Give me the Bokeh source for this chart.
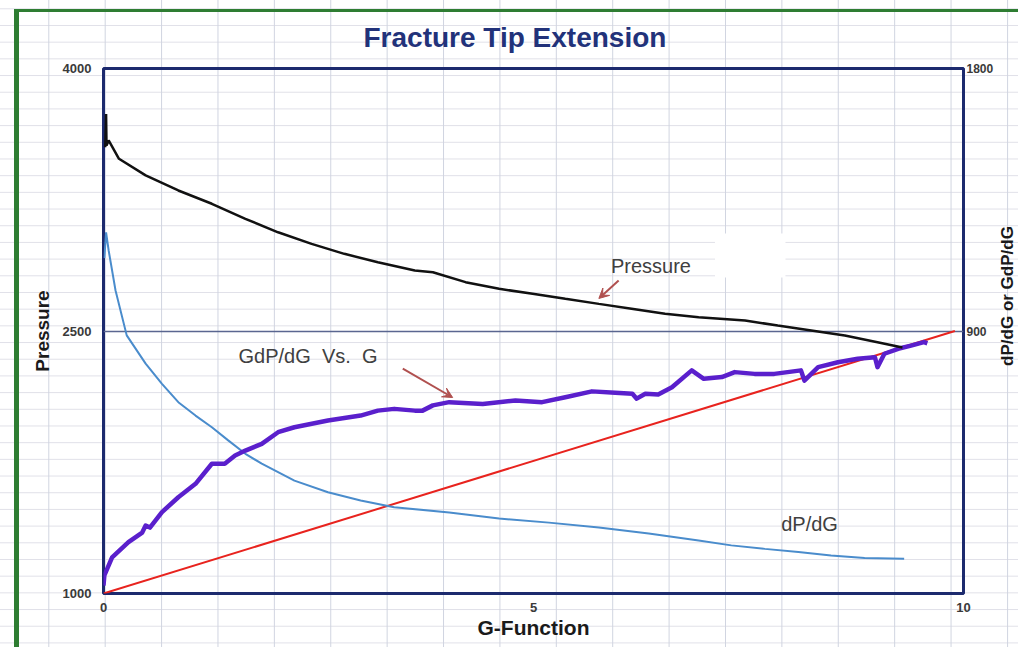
import numpy as np
from bokeh.plotting import figure
from bokeh.layouts import row
from bokeh.models import Range1d, LinearAxis, FixedTicker, Label, Arrow, VeeHead, BoxAnnotation
from bokeh.core.properties import value
from bokeh.embed import file_html
from bokeh.resources import INLINE

# ---------------- data ----------------
x_ticks = [0, 5, 10]
left_ticks = [1000, 2500, 4000]
right_ticks = [900, 1800]

pressure_g = [0.02, 0.03, 0.035, 0.06, 0.18, 0.49, 0.87, 1.26, 1.65, 2.03, 2.42, 2.80,
              3.19, 3.62, 3.83, 4.21, 4.60, 4.99, 5.37, 5.76, 6.14, 6.53, 6.92, 7.46,
              7.84, 8.23, 8.62, 9.00, 9.29]
pressure_p = [3550, 3740, 3560, 3589, 3484, 3389, 3303, 3227, 3141, 3064, 2998, 2941,
              2893, 2846, 2836, 2779, 2741, 2713, 2684, 2655, 2627, 2598, 2579, 2560,
              2531, 2503, 2474, 2436, 2406]

dpdg_g = [0.01, 0.03, 0.06, 0.14, 0.27, 0.49, 0.68, 0.87, 1.07, 1.26, 1.45, 1.65, 1.84,
          2.22, 2.61, 2.99, 3.38, 4.02, 4.60, 5.18, 5.76, 6.34, 6.92, 7.30, 7.69, 8.08,
          8.46, 8.85, 9.31]
dpdg_v = [1150, 1238, 1176, 1039, 885, 788, 719, 656, 610, 570, 525, 479, 445,
          387, 347, 319, 296, 278, 257, 243, 226, 206, 182, 165, 153, 142,
          130, 122, 119]

gdpdg_g = [0.00, 0.01, 0.10, 0.29, 0.45, 0.49, 0.54, 0.68, 0.87, 1.07, 1.26, 1.41, 1.53,
           1.65, 1.84, 2.03, 2.22, 2.61, 2.99, 3.19, 3.38, 3.62, 3.71, 3.83, 4.02, 4.41,
           4.79, 5.10, 5.37, 5.68, 5.95, 6.15, 6.20, 6.30, 6.45, 6.61, 6.84, 6.98, 7.19,
           7.34, 7.57, 7.80, 8.11, 8.15, 8.31, 8.54, 8.77, 8.97, 9.00, 9.08, 9.24, 9.39,
           9.54, 9.58]
gdpdg_v = [27, 62, 124, 176, 209, 233, 226, 279, 330, 376, 445, 445, 473,
           490, 513, 553, 570, 593, 610, 627, 633, 627, 627, 645, 656, 650,
           662, 656, 673, 693, 688, 685, 668, 685, 682, 707, 765, 736, 742,
           759, 753, 753, 765, 730, 776, 793, 805, 810, 776, 822, 839, 850,
           862, 858]

red_g = [0.0, 9.9]
red_v = [0.0, 900.0]

right_axis_title = "dP/dG or GdP/dG"

# ---------------- styling ----------------
FONT = "Liberation Sans"
NAVY = "#1c2a6e"
ARROW_C = "#b0504f"
GRID_IMG = ("linear-gradient(to right, #d0d4e0 1px, transparent 1px),"
            "linear-gradient(to bottom, #e0e0e8 1px, transparent 1px)")

p = figure(width=996, height=647, output_backend="svg", toolbar_location=None,
           x_range=Range1d(0, 10), y_range=Range1d(1000, 4000),
           min_border_left=103, min_border_right=30, min_border_top=68, min_border_bottom=54,
           title="Fracture Tip Extension")
p.extra_y_ranges = {"right": Range1d(0, 1800)}

p.border_fill_color = None
p.background_fill_color = None
p.outline_line_color = NAVY
p.outline_line_width = 3

# spreadsheet-like background grid and green border (decoration)
p.styles = {
    "background-image": ("linear-gradient(#2e7d32,#2e7d32),"
                         "linear-gradient(#2e7d32,#2e7d32)," + GRID_IMG),
    "background-size": "calc(100% - 14px) 3px, 5px calc(100% - 9px), 56.4px 100%, 100% 16.7px",
    "background-position": "14px 9px, 14px 9px, 48.3px 0, 0 8.3px",
    "background-repeat": "no-repeat, no-repeat, repeat, repeat",
}

p.title.text_font = FONT
p.title.text_font_size = "28px"
p.title.text_font_style = "bold"
p.title.text_color = "#22327a"
p.title.align = "left"
p.title.offset = 260
p.title.standoff = 31

# axes
def style_axis(ax, label=None, label_size="19px", tick_size="13px"):
    ax.major_label_text_font = FONT
    ax.major_label_text_font_size = tick_size
    ax.major_label_text_font_style = "bold"
    ax.major_label_text_color = "#3a3a3a"
    ax.axis_line_color = None
    ax.major_tick_line_color = None
    ax.minor_tick_line_color = None
    ax.major_tick_out = 0
    ax.major_tick_in = 0
    ax.minor_tick_out = 0
    ax.minor_tick_in = 0
    if label:
        ax.axis_label = label
        ax.axis_label_text_font = FONT
        ax.axis_label_text_font_size = label_size
        ax.axis_label_text_font_style = "bold"
        ax.axis_label_text_color = "#1a1a1a"

xa = p.xaxis[0]
xa.ticker = FixedTicker(ticks=x_ticks)
style_axis(xa, "G-Function", "21px")
xa.major_label_standoff = 9
xa.axis_label_standoff = 1
xa.axis_label_text_line_height = 0.8

ya = p.yaxis[0]
ya.ticker = FixedTicker(ticks=left_ticks)
style_axis(ya, "Pressure", "19px")
ya.major_label_standoff = 12
ya.axis_label_standoff = 7

ra = LinearAxis(y_range_name="right", ticker=FixedTicker(ticks=right_ticks))
style_axis(ra, tick_size="12px")
ra.major_label_standoff = 3
p.add_layout(ra, "right")

p.xgrid.grid_line_color = None
p.ygrid.ticker = FixedTicker(ticks=left_ticks)
p.ygrid.grid_line_color = "#5a6690"
p.ygrid.grid_line_width = 1.6

# white patch (leftover text box in the original)
p.add_layout(BoxAnnotation(left=7.11, right=7.93, bottom=2806, top=3057,
                           fill_color="white", fill_alpha=1.0, line_color=None))

# series
p.line(red_g, red_v, y_range_name="right", line_color="#e8231e", line_width=2)
p.line(dpdg_g, dpdg_v, y_range_name="right", line_color="#4a8ccc", line_width=2)
p.line(gdpdg_g, gdpdg_v, y_range_name="right", line_color="#5a1fcc", line_width=4.5,
       line_join="round")
p.line(pressure_g, pressure_p, line_color="#111111", line_width=2.5)

# annotations
lab_kw = dict(text_font=FONT, text_font_size="20px", text_color="#404040",
              text_baseline="middle", text_align="left")
p.add_layout(Label(x=5.90, y=2874, text="Pressure", **lab_kw))
p.add_layout(Label(x=1.57, y=815, y_range_name="right",
                   text="GdP/dG \u00a0Vs. \u00a0G", **lab_kw))
p.add_layout(Label(x=7.88, y=240, y_range_name="right", text="dP/dG", **lab_kw))

p.add_layout(Arrow(end=VeeHead(size=10, fill_color=ARROW_C, line_color=ARROW_C),
                   x_start=5.99, y_start=2789, x_end=5.76, y_end=2686,
                   line_color=ARROW_C, line_width=2))
p.add_layout(Arrow(end=VeeHead(size=10, fill_color=ARROW_C, line_color=ARROW_C),
                   x_start=3.48, y_start=771, x_end=4.06, y_end=672, y_range_name="right",
                   line_color=ARROW_C, line_width=2))

# thin strip on the right carrying the secondary axis title
q = figure(width=22, height=647, output_backend="svg", toolbar_location=None,
           x_range=Range1d(0, 1), y_range=Range1d(0, 1800),
           x_axis_location=None, y_axis_location=None,
           min_border_left=0, min_border_right=0, min_border_top=68, min_border_bottom=54)
q.grid.visible = False
q.outline_line_color = None
q.border_fill_color = None
q.background_fill_color = None
q.styles = {
    "background-image": "linear-gradient(#2e7d32,#2e7d32)," + GRID_IMG,
    "background-size": "100% 3px, 56.4px 100%, 100% 16.7px",
    "background-position": "0 9px, 11.1px 0, 0 8.3px",
    "background-repeat": "no-repeat, repeat, repeat",
}
q.text(x=[0.5], y=[1020], text=[right_axis_title], angle=np.pi / 2,
       text_align="center", text_baseline="middle", text_font=value(FONT),
       text_font_size="17px", text_font_style="bold", text_color="#1a1a1a")

layout = row(p, q, spacing=0)
open("out.html", "w").write(file_html(layout, INLINE))
